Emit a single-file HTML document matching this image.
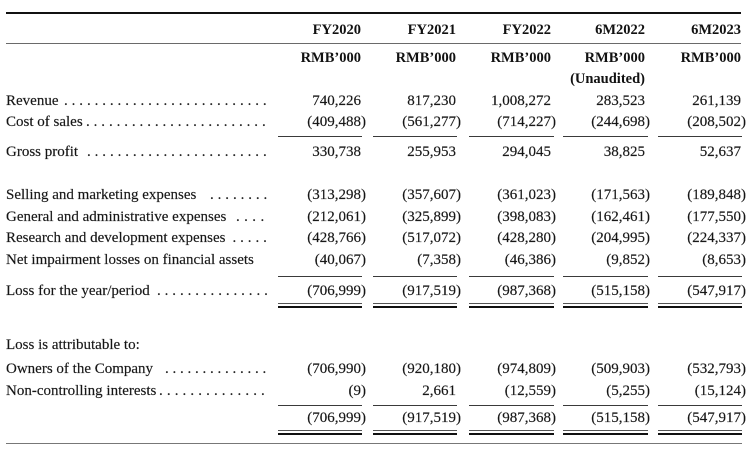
<!DOCTYPE html>
<html><head><meta charset="utf-8">
<style>
html,body{margin:0;padding:0;background:#fff;}
body{width:750px;height:451px;position:relative;overflow:hidden;}
.t{position:absolute;font-family:"Liberation Serif",serif;font-size:15px;line-height:17px;white-space:nowrap;color:#141414;-webkit-text-stroke:0.2px #333;}
.h{position:absolute;font-family:"Liberation Serif",serif;font-size:14.5px;font-weight:bold;line-height:17px;white-space:nowrap;color:#111;text-align:right;}
.n{text-align:right;}
.p{margin-right:-5px;}
.d{position:absolute;font-family:"Liberation Serif",serif;font-size:15px;line-height:17px;white-space:nowrap;color:#222;letter-spacing:3.9px;-webkit-text-stroke:0.2px #333;}
.l{position:absolute;height:1px;background:#3a3a3a;}
.c1{right:389px}.c2{right:294px}.c3{right:199px}.c4{right:105px}.c5{right:9px}
</style></head><body>

<!-- top lines -->
<div class="l" style="left:6px;width:735px;top:11.5px;height:2.5px;background:#111;"></div>
<div class="l" style="left:6px;width:735px;top:42.5px;background:#6a6a6a;"></div>

<!-- headers -->
<div class="h c1" style="top:22px">FY2020</div>
<div class="h c2" style="top:22px">FY2021</div>
<div class="h c3" style="top:22px">FY2022</div>
<div class="h c4" style="top:22px">6M2022</div>
<div class="h c5" style="top:22px">6M2023</div>

<div class="h c1" style="top:49.5px">RMB’000</div>
<div class="h c2" style="top:49.5px">RMB’000</div>
<div class="h c3" style="top:49.5px">RMB’000</div>
<div class="h c4" style="top:49.5px">RMB’000</div>
<div class="h c5" style="top:49.5px">RMB’000</div>
<div class="h c4" style="top:70.5px">(Unaudited)</div>

<!-- Revenue -->
<div class="t" style="left:6px;top:93.4px">Revenue</div>
<div class="d" style="left:64px;top:93.4px">...........................</div>
<div class="t n c1" style="top:93.4px">740,226</div>
<div class="t n c2" style="top:93.4px">817,230</div>
<div class="t n c3" style="top:93.4px">1,008,272</div>
<div class="t n c4" style="top:93.4px">283,523</div>
<div class="t n c5" style="top:93.4px">261,139</div>

<!-- Cost of sales -->
<div class="t" style="left:6px;top:114.4px">Cost of sales</div>
<div class="d" style="left:86px;top:114.4px">........................</div>
<div class="t n c1" style="top:114.4px">(409,488<span class="p">)</span></div>
<div class="t n c2" style="top:114.4px">(561,277<span class="p">)</span></div>
<div class="t n c3" style="top:114.4px">(714,227<span class="p">)</span></div>
<div class="t n c4" style="top:114.4px">(244,698<span class="p">)</span></div>
<div class="t n c5" style="top:114.4px">(208,502<span class="p">)</span></div>

<div class="l" style="left:278px;width:84px;top:136px"></div>
<div class="l" style="left:373px;width:84px;top:136px"></div>
<div class="l" style="left:469px;width:85px;top:136px"></div>
<div class="l" style="left:563px;width:85px;top:136px"></div>
<div class="l" style="left:658px;width:84px;top:136px"></div>

<!-- Gross profit -->
<div class="t" style="left:6px;top:144.4px">Gross profit</div>
<div class="d" style="left:87px;top:144.4px">........................</div>
<div class="t n c1" style="top:144.4px">330,738</div>
<div class="t n c2" style="top:144.4px">255,953</div>
<div class="t n c3" style="top:144.4px">294,045</div>
<div class="t n c4" style="top:144.4px">38,825</div>
<div class="t n c5" style="top:144.4px">52,637</div>

<!-- Selling -->
<div class="t" style="left:6px;top:187.4px">Selling and marketing expenses</div>
<div class="d" style="left:210px;top:187.4px">........</div>
<div class="t n c1" style="top:187.4px">(313,298<span class="p">)</span></div>
<div class="t n c2" style="top:187.4px">(357,607<span class="p">)</span></div>
<div class="t n c3" style="top:187.4px">(361,023<span class="p">)</span></div>
<div class="t n c4" style="top:187.4px">(171,563<span class="p">)</span></div>
<div class="t n c5" style="top:187.4px">(189,848<span class="p">)</span></div>

<!-- General -->
<div class="t" style="left:6px;top:208.9px">General and administrative expenses</div>
<div class="d" style="left:236px;top:208.9px;letter-spacing:4.4px">....</div>
<div class="t n c1" style="top:208.9px">(212,061<span class="p">)</span></div>
<div class="t n c2" style="top:208.9px">(325,899<span class="p">)</span></div>
<div class="t n c3" style="top:208.9px">(398,083<span class="p">)</span></div>
<div class="t n c4" style="top:208.9px">(162,461<span class="p">)</span></div>
<div class="t n c5" style="top:208.9px">(177,550<span class="p">)</span></div>

<!-- Research -->
<div class="t" style="left:6px;top:230.4px">Research and development expenses</div>
<div class="d" style="left:232.5px;top:230.4px">.....</div>
<div class="t n c1" style="top:230.4px">(428,766<span class="p">)</span></div>
<div class="t n c2" style="top:230.4px">(517,072<span class="p">)</span></div>
<div class="t n c3" style="top:230.4px">(428,280<span class="p">)</span></div>
<div class="t n c4" style="top:230.4px">(204,995<span class="p">)</span></div>
<div class="t n c5" style="top:230.4px">(224,337<span class="p">)</span></div>

<!-- Net impairment -->
<div class="t" style="left:6px;top:252.4px">Net impairment losses on financial assets</div>
<div class="t n c1" style="top:252.4px">(40,067<span class="p">)</span></div>
<div class="t n c2" style="top:252.4px">(7,358<span class="p">)</span></div>
<div class="t n c3" style="top:252.4px">(46,386<span class="p">)</span></div>
<div class="t n c4" style="top:252.4px">(9,852<span class="p">)</span></div>
<div class="t n c5" style="top:252.4px">(8,653<span class="p">)</span></div>

<div class="l" style="left:278px;width:84px;top:276px"></div>
<div class="l" style="left:373px;width:84px;top:276px"></div>
<div class="l" style="left:469px;width:85px;top:276px"></div>
<div class="l" style="left:563px;width:85px;top:276px"></div>
<div class="l" style="left:658px;width:84px;top:276px"></div>

<!-- Loss for the year -->
<div class="t" style="left:6px;top:283.4px">Loss for the year/period</div>
<div class="d" style="left:157px;top:283.4px">...............</div>
<div class="t n c1" style="top:283.4px">(706,999<span class="p">)</span></div>
<div class="t n c2" style="top:283.4px">(917,519<span class="p">)</span></div>
<div class="t n c3" style="top:283.4px">(987,368<span class="p">)</span></div>
<div class="t n c4" style="top:283.4px">(515,158<span class="p">)</span></div>
<div class="t n c5" style="top:283.4px">(547,917<span class="p">)</span></div>

<div class="l" style="left:278px;width:84px;top:302.5px;background:#555"></div>
<div class="l" style="left:373px;width:84px;top:302.5px;background:#555"></div>
<div class="l" style="left:469px;width:85px;top:302.5px;background:#555"></div>
<div class="l" style="left:563px;width:85px;top:302.5px;background:#555"></div>
<div class="l" style="left:658px;width:84px;top:302.5px;background:#555"></div>
<div class="l" style="left:278px;width:84px;top:305.5px;height:2.5px;background:#111"></div>
<div class="l" style="left:373px;width:84px;top:305.5px;height:2.5px;background:#111"></div>
<div class="l" style="left:469px;width:85px;top:305.5px;height:2.5px;background:#111"></div>
<div class="l" style="left:563px;width:85px;top:305.5px;height:2.5px;background:#111"></div>
<div class="l" style="left:658px;width:84px;top:305.5px;height:2.5px;background:#111"></div>

<!-- Loss attributable -->
<div class="t" style="left:6px;top:337.4px">Loss is attributable to:</div>

<div class="t" style="left:6px;top:361.4px">Owners of the Company</div>
<div class="d" style="left:165px;top:361.4px;letter-spacing:3.75px">..............</div>
<div class="t n c1" style="top:361.4px">(706,990<span class="p">)</span></div>
<div class="t n c2" style="top:361.4px">(920,180<span class="p">)</span></div>
<div class="t n c3" style="top:361.4px">(974,809<span class="p">)</span></div>
<div class="t n c4" style="top:361.4px">(509,903<span class="p">)</span></div>
<div class="t n c5" style="top:361.4px">(532,793<span class="p">)</span></div>

<div class="t" style="left:6px;top:382.9px">Non-controlling interests</div>
<div class="d" style="left:159px;top:382.9px;letter-spacing:4.1px">..............</div>
<div class="t n c1" style="top:382.9px">(9<span class="p">)</span></div>
<div class="t n c2" style="top:382.9px">2,661</div>
<div class="t n c3" style="top:382.9px">(12,559<span class="p">)</span></div>
<div class="t n c4" style="top:382.9px">(5,255<span class="p">)</span></div>
<div class="t n c5" style="top:382.9px">(15,124<span class="p">)</span></div>

<div class="l" style="left:278px;width:84px;top:404.5px"></div>
<div class="l" style="left:373px;width:84px;top:404.5px"></div>
<div class="l" style="left:469px;width:85px;top:404.5px"></div>
<div class="l" style="left:563px;width:85px;top:404.5px"></div>
<div class="l" style="left:658px;width:84px;top:404.5px"></div>

<div class="t n c1" style="top:410.4px">(706,999<span class="p">)</span></div>
<div class="t n c2" style="top:410.4px">(917,519<span class="p">)</span></div>
<div class="t n c3" style="top:410.4px">(987,368<span class="p">)</span></div>
<div class="t n c4" style="top:410.4px">(515,158<span class="p">)</span></div>
<div class="t n c5" style="top:410.4px">(547,917<span class="p">)</span></div>

<div class="l" style="left:278px;width:84px;top:429.5px;background:#555"></div>
<div class="l" style="left:373px;width:84px;top:429.5px;background:#555"></div>
<div class="l" style="left:469px;width:85px;top:429.5px;background:#555"></div>
<div class="l" style="left:563px;width:85px;top:429.5px;background:#555"></div>
<div class="l" style="left:658px;width:84px;top:429.5px;background:#555"></div>
<div class="l" style="left:278px;width:84px;top:432.5px;height:2.5px;background:#111"></div>
<div class="l" style="left:373px;width:84px;top:432.5px;height:2.5px;background:#111"></div>
<div class="l" style="left:469px;width:85px;top:432.5px;height:2.5px;background:#111"></div>
<div class="l" style="left:563px;width:85px;top:432.5px;height:2.5px;background:#111"></div>
<div class="l" style="left:658px;width:84px;top:432.5px;height:2.5px;background:#111"></div>

<div class="l" style="left:6px;width:736px;top:443px;background:#777"></div>

</body></html>
